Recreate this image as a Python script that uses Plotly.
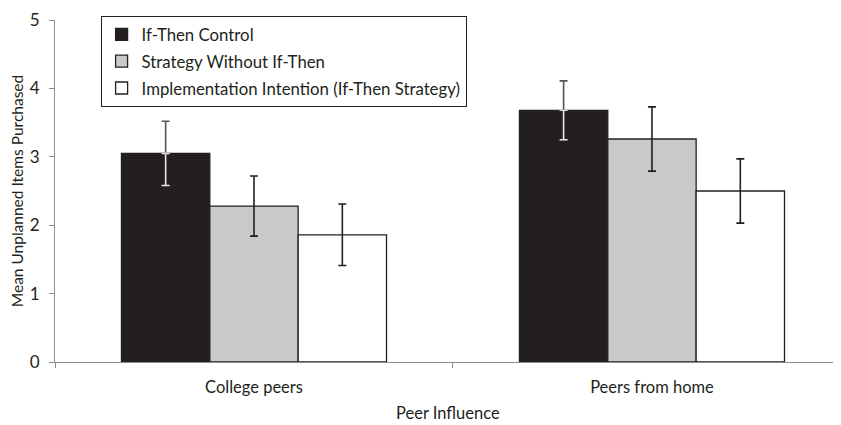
import plotly.graph_objects as go

categories = ["College peers", "Peers from home"]
series_names = ["If-Then Control", "Strategy Without If-Then", "Implementation Intention (If-Then Strategy)"]
control = [3.05, 3.68]
control_err = [0.47, 0.43]
strategy = [2.28, 3.26]
strategy_err = [0.44, 0.47]
intention = [1.86, 2.50]
intention_err = [0.45, 0.47]
y_ticks = [0, 1, 2, 3, 4, 5]
x_title = "Peer Influence"

FONT = "Lato"
TXT = "#231F20"
AX = "#8C8C8C"

fig = go.Figure()

fills = ["#231F20", "#C8C9CB", "#FFFFFF"]
vals = [control, strategy, intention]
errs = [control_err, strategy_err, intention_err]
err_cols = ["#555555", "#231F20", "#231F20"]

for i in range(3):
    sym = i != 0
    fig.add_trace(go.Bar(
        x=categories, y=vals[i], name=series_names[i],
        offsetgroup=str(i), legendgroup=str(i),
        marker=dict(color=fills[i], line=dict(color="#231F20", width=1.3)),
        error_y=dict(type="data", array=errs[i],
                     arrayminus=errs[i] if sym else [0] * len(errs[i]),
                     symmetric=sym, color=err_cols[i], thickness=1.6, width=4),
    ))
    if i == 0:
        # lower whisker drawn light over the dark bar
        fig.add_trace(go.Bar(
            x=categories, y=vals[i], showlegend=False, hoverinfo="skip",
            offsetgroup=str(i), legendgroup=str(i),
            marker=dict(color="rgba(0,0,0,0)", line=dict(width=0)),
            error_y=dict(type="data", array=[0] * len(errs[i]), arrayminus=errs[i],
                         symmetric=False, color="#E6E6E6", thickness=1.6, width=4),
        ))

fig.add_annotation(
    text=x_title, xref="paper", yref="paper", x=0.5, y=-0.149,
    xanchor="center", yanchor="middle", showarrow=False, borderpad=0,
    font=dict(family=FONT, size=16.5, color=TXT),
)

fig.update_layout(
    width=833, height=417,
    margin=dict(l=47, r=0, t=12, b=63, autoexpand=False),
    paper_bgcolor="white", plot_bgcolor="white",
    font=dict(family=FONT, size=16, color=TXT),
    barmode="group", bargap=0.334, bargroupgap=0,
    showlegend=True,
    legend=dict(
        x=0.058, y=1.012, xanchor="left", yanchor="top",
        bgcolor="white", bordercolor="#231F20", borderwidth=1,
        font=dict(family=FONT, size=16.8, color=TXT),
        traceorder="grouped", tracegroupgap=2,
        itemwidth=30,
    ),
    xaxis=dict(
        type="category", range=[-0.5, 1.475], automargin=False,
        showline=True, linecolor=AX, linewidth=1,
        ticks="outside", tickson="boundaries", ticklen=5, tickcolor=AX,
        ticklabelstandoff=10,
        tickfont=dict(family=FONT, size=16.5, color=TXT),
        showgrid=False, zeroline=False,
    ),
    yaxis=dict(
        range=[0, 5], tickvals=y_ticks, automargin=False,
        showline=True, linecolor=AX, linewidth=1,
        ticks="outside", ticklen=5, tickcolor=AX,
        ticklabelstandoff=6,
        tickfont=dict(family=FONT, size=17, color=TXT),
        title=dict(text="Mean Unplanned Items Purchased", standoff=10,
                   font=dict(family=FONT, size=15.5, color=TXT)),
        showgrid=False, zeroline=False,
    ),
)

fig.write_html("out.html")
